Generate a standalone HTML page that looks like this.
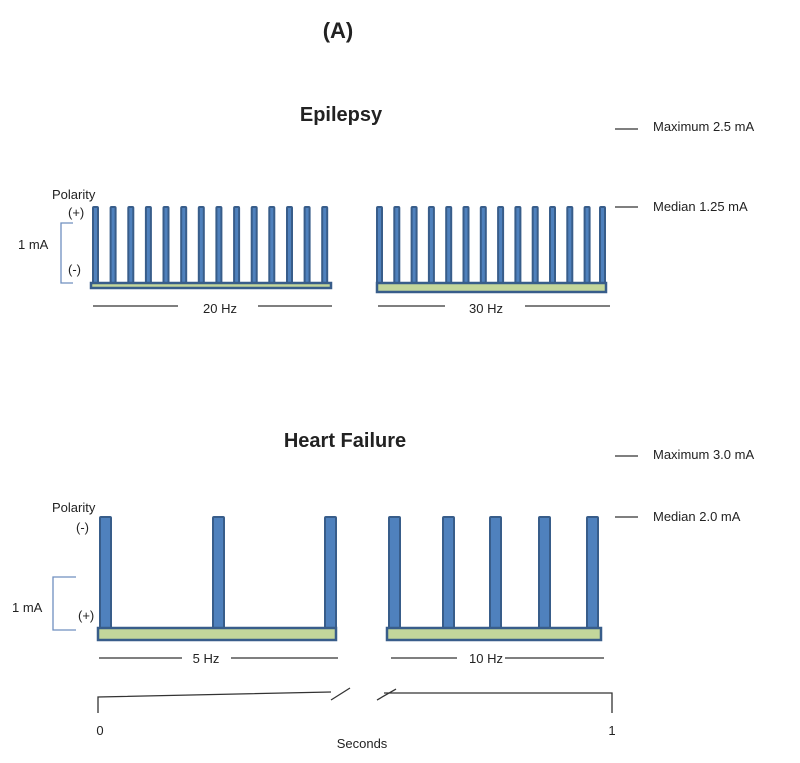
<!DOCTYPE html>
<html><head><meta charset="utf-8"><style>
html,body{margin:0;padding:0;background:#fff;}
svg{display:block;}
text{font-family:"Liberation Sans",Arial,sans-serif;fill:#222;}
.b{fill:#4f81bd;stroke:#385d8a;stroke-width:2;}
.g{fill:#c3d69b;stroke:#385d8a;stroke-width:2.5;}
.l{stroke:#333;stroke-width:1.3;fill:none;}
.s{font-size:13px;}
</style></head><body>
<svg width="800" height="763" viewBox="0 0 800 763">
<text x="338" y="38" font-size="22" font-weight="bold" text-anchor="middle">(A)</text>
<text x="341" y="121" font-size="20" font-weight="bold" text-anchor="middle">Epilepsy</text>
<text x="345" y="447" font-size="20" font-weight="bold" text-anchor="middle">Heart Failure</text>

<!-- right labels -->
<line class="l" x1="615" y1="129" x2="638" y2="129"/><text class="s" x="653" y="131">Maximum 2.5 mA</text>
<line class="l" x1="615" y1="207" x2="638" y2="207"/><text class="s" x="653" y="211">Median 1.25 mA</text>
<line class="l" x1="615" y1="456" x2="638" y2="456"/><text class="s" x="653" y="459">Maximum 3.0 mA</text>
<line class="l" x1="615" y1="517" x2="638" y2="517"/><text class="s" x="653" y="521">Median 2.0 mA</text>

<!-- Epilepsy left labels -->
<text class="s" x="52" y="199">Polarity</text>
<text class="s" x="68" y="217">(+)</text>
<text class="s" x="18" y="249">1 mA</text>
<text class="s" x="68" y="274">(-)</text>
<path d="M73,223 H61 V283 H73" stroke="#6f8fbf" stroke-width="1.3" fill="none"/>

<!-- Epilepsy 20 Hz bars -->
<g>
<rect class="b" x="93" y="207" width="5" height="77" rx="1"/>
<rect class="b" x="110.6" y="207" width="5" height="77" rx="1"/>
<rect class="b" x="128.3" y="207" width="5" height="77" rx="1"/>
<rect class="b" x="145.9" y="207" width="5" height="77" rx="1"/>
<rect class="b" x="163.5" y="207" width="5" height="77" rx="1"/>
<rect class="b" x="181.2" y="207" width="5" height="77" rx="1"/>
<rect class="b" x="198.8" y="207" width="5" height="77" rx="1"/>
<rect class="b" x="216.4" y="207" width="5" height="77" rx="1"/>
<rect class="b" x="234.1" y="207" width="5" height="77" rx="1"/>
<rect class="b" x="251.7" y="207" width="5" height="77" rx="1"/>
<rect class="b" x="269.3" y="207" width="5" height="77" rx="1"/>
<rect class="b" x="287" y="207" width="5" height="77" rx="1"/>
<rect class="b" x="304.6" y="207" width="5" height="77" rx="1"/>
<rect class="b" x="322.2" y="207" width="5" height="77" rx="1"/>
</g>
<rect class="g" x="91" y="283" width="240" height="5"/>
<line class="l" x1="93" y1="306" x2="178" y2="306"/>
<text class="s" x="220" y="313" text-anchor="middle">20 Hz</text>
<line class="l" x1="258" y1="306" x2="332" y2="306"/>

<!-- Epilepsy 30 Hz bars -->
<g>
<rect class="b" x="377" y="207" width="5" height="77" rx="1"/>
<rect class="b" x="394.3" y="207" width="5" height="77" rx="1"/>
<rect class="b" x="411.6" y="207" width="5" height="77" rx="1"/>
<rect class="b" x="428.9" y="207" width="5" height="77" rx="1"/>
<rect class="b" x="446.2" y="207" width="5" height="77" rx="1"/>
<rect class="b" x="463.5" y="207" width="5" height="77" rx="1"/>
<rect class="b" x="480.8" y="207" width="5" height="77" rx="1"/>
<rect class="b" x="498.1" y="207" width="5" height="77" rx="1"/>
<rect class="b" x="515.4" y="207" width="5" height="77" rx="1"/>
<rect class="b" x="532.7" y="207" width="5" height="77" rx="1"/>
<rect class="b" x="550" y="207" width="5" height="77" rx="1"/>
<rect class="b" x="567.3" y="207" width="5" height="77" rx="1"/>
<rect class="b" x="584.6" y="207" width="5" height="77" rx="1"/>
<rect class="b" x="600" y="207" width="5" height="77" rx="1"/>
</g>
<rect class="g" x="377" y="283" width="229" height="9"/>
<line class="l" x1="378" y1="306" x2="445" y2="306"/>
<text class="s" x="486" y="313" text-anchor="middle">30 Hz</text>
<line class="l" x1="525" y1="306" x2="610" y2="306"/>

<!-- Heart failure labels -->
<text class="s" x="52" y="512">Polarity</text>
<text class="s" x="76" y="532">(-)</text>
<text class="s" x="12" y="612">1 mA</text>
<text class="s" x="78" y="620">(+)</text>
<path d="M76,577 H53 V630 H76" stroke="#6f8fbf" stroke-width="1.3" fill="none"/>

<!-- 5 Hz -->
<rect class="b" x="100" y="517" width="11" height="111" rx="1"/>
<rect class="b" x="213" y="517" width="11" height="111" rx="1"/>
<rect class="b" x="325" y="517" width="11" height="111" rx="1"/>
<rect class="g" x="98" y="628" width="238" height="12"/>
<line class="l" x1="99" y1="658" x2="182" y2="658"/>
<text class="s" x="206" y="663" text-anchor="middle">5 Hz</text>
<line class="l" x1="231" y1="658" x2="338" y2="658"/>

<!-- 10 Hz -->
<rect class="b" x="389" y="517" width="11" height="111" rx="1"/>
<rect class="b" x="443" y="517" width="11" height="111" rx="1"/>
<rect class="b" x="490" y="517" width="11" height="111" rx="1"/>
<rect class="b" x="539" y="517" width="11" height="111" rx="1"/>
<rect class="b" x="587" y="517" width="11" height="111" rx="1"/>
<rect class="g" x="387" y="628" width="214" height="12"/>
<line class="l" x1="391" y1="658" x2="457" y2="658"/>
<text class="s" x="486" y="663" text-anchor="middle">10 Hz</text>
<line class="l" x1="505" y1="658" x2="604" y2="658"/>

<!-- time axis -->
<path class="l" d="M98,713 V697 L331,692"/>
<line class="l" x1="331" y1="700" x2="350" y2="688"/>
<line class="l" x1="377" y1="700" x2="396" y2="689"/>
<path class="l" d="M384,693 L612,693 V713"/>
<text class="s" x="100" y="735" text-anchor="middle">0</text>
<text class="s" x="612" y="735" text-anchor="middle">1</text>
<text class="s" x="362" y="748" text-anchor="middle">Seconds</text>
</svg>
</body></html>
